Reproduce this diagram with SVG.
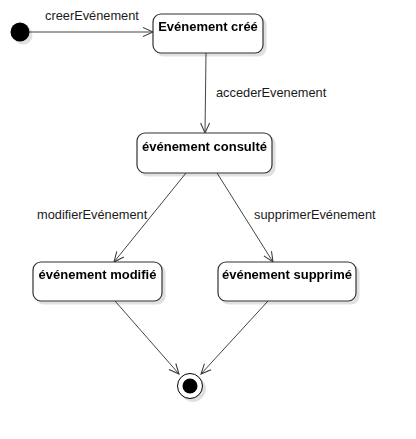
<svg xmlns="http://www.w3.org/2000/svg" width="416" height="439" viewBox="0 0 416 439">
<defs>
<filter id="sh" x="-20%" y="-20%" width="140%" height="140%">
<feOffset in="SourceAlpha" dx="3" dy="3" result="o"/>
<feColorMatrix in="o" type="matrix" values="0 0 0 0 0  0 0 0 0 0  0 0 0 0 0  0 0 0 0.12 0"/>
<feMerge><feMergeNode/><feMergeNode in="SourceGraphic"/></feMerge>
</filter>
<marker id="open" viewBox="0 0 12 12" refX="11" refY="6" markerWidth="12" markerHeight="12" markerUnits="userSpaceOnUse" orient="auto">
<path d="M1,1.5 L11,6 L1,10.5" fill="none" stroke="#333" stroke-width="1"/>
</marker>
</defs>
<style>
.st{fill:#fff;stroke:#333;stroke-width:1.2;}
.nt{font-family:"Liberation Sans",Arial,sans-serif;font-size:13px;font-weight:bold;fill:#000;text-anchor:middle;}
.lb{font-family:"Liberation Sans",Arial,sans-serif;font-size:12.8px;fill:#1a1a1a;}
.ed{fill:none;stroke:#444;stroke-width:1;marker-end:url(#open);}
</style>
<rect width="416" height="439" fill="#fff"/>
<g id="connectors">
<path class="ed" d="M29,32 L153,32"/>
<path class="ed" d="M206,53 L205,133"/>
<path class="ed" d="M186,173 L114,262"/>
<path class="ed" d="M217,173 L273,262"/>
<path class="ed" d="M115,301 L179,374"/>
<path class="ed" d="M268,301 L201,374"/>
<text class="lb" x="45" y="20">creerEvénement</text>
<text class="lb" x="216" y="97">accederEvenement</text>
<text class="lb" x="37" y="219">modifierEvénement</text>
<text class="lb" x="254" y="219">supprimerEvénement</text>
</g>
<g id="start" filter="url(#sh)">
<circle cx="20" cy="32" r="9.5" fill="#000"/>
</g>
<g id="n1" filter="url(#sh)">
<rect class="st" x="153" y="14" width="110" height="39" rx="8"/>
<text class="nt" x="208" y="31">Evénement créé</text>
</g>
<g id="n2" filter="url(#sh)">
<rect class="st" x="137" y="133" width="135" height="40" rx="8"/>
<text class="nt" x="204.5" y="151">événement consulté</text>
</g>
<g id="n3" filter="url(#sh)">
<rect class="st" x="33" y="262" width="129" height="39" rx="8"/>
<text class="nt" x="97.5" y="279">événement modifié</text>
</g>
<g id="n4" filter="url(#sh)">
<rect class="st" x="218" y="262" width="138" height="39" rx="8"/>
<text class="nt" x="287" y="279">événement supprimé</text>
</g>
<g id="end" filter="url(#sh)">
<circle cx="190" cy="386" r="12.5" fill="#fff" stroke="#000" stroke-width="1"/>
<circle cx="190" cy="386" r="7.5" fill="#000"/>
</g>
</svg>
